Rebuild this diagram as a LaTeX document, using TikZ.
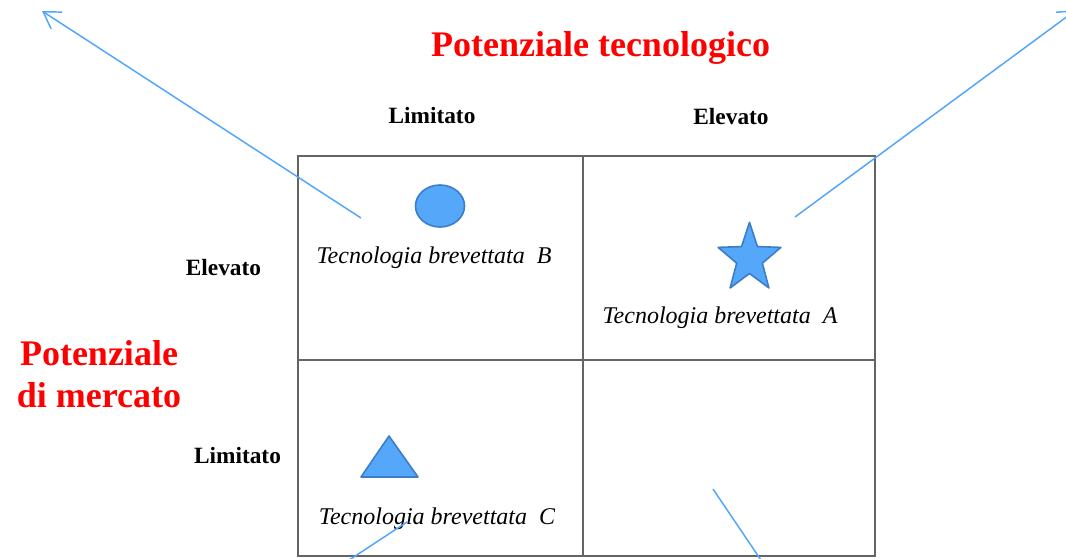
\documentclass[tikz,border=0pt]{standalone}
\usepackage{fontspec}
\setmainfont{Liberation Serif}
\usetikzlibrary{shapes.geometric,arrows.meta}
\definecolor{titred}{RGB}{255,0,0}
\definecolor{linblu}{RGB}{80,165,255}
\definecolor{shpfill}{RGB}{85,167,250}
\definecolor{shpdraw}{RGB}{60,125,200}
\definecolor{gridgray}{RGB}{100,100,100}

\begin{document}
\begin{tikzpicture}[x=0.75pt,y=0.75pt,yscale=-1,xscale=1,
	titolo/.style={text=titred,font=\bfseries\fontsize{27}{31.5}\selectfont,inner sep=0pt},
	livello/.style={font=\bfseries\fontsize{17.5}{21}\selectfont,inner sep=0pt},
	brevetto/.style={font=\itshape\fontsize{18}{21}\selectfont,inner sep=0pt},
	simbolo/.style={fill=shpfill,draw=shpdraw,line width=1.2pt,inner sep=0pt,line join=round},
	freccia/.style={draw=linblu,line width=1.1pt,-{Straight Barb[length=12pt,width=15pt]}},
	filo/.style={draw=linblu,line width=1.1pt}]
		\useasboundingbox (0,0) rectangle (1066,558);
		
		%Grid
		\draw [gridgray,line width=1.1pt] (298,156) rectangle (875,556) (583,156) -- (583,556) (298,360) -- (875,360);
		
		% Text Node
		\node [titolo,anchor=base] (tecno) at (600.5,56) {Potenziale tecnologico};
		% Text Node
		\node [titolo,anchor=base,align=center] (merc) at (99,407) {Potenziale\\di mercato};
		% Text Node
		\node [livello,anchor=base] (limT) at (432,123) {Limitato};
		% Text Node
		\node [livello,anchor=base] (eleT) at (731,124) {Elevato};
		% Text Node
		\node [livello,anchor=base] (eleL) at (223.5,275) {Elevato};
		% Text Node
		\node [livello,anchor=base] (limL) at (237.5,463) {Limitato};
		% Text Node
		\node [brevetto,anchor=base] (tecB) at (434,263) {Tecnologia brevettata\ \ B};
		% Text Node
		\node [brevetto,anchor=base] (tecA) at (720,323) {Tecnologia brevettata\ \ A};
		% Text Node
		\node [brevetto,anchor=base] (tecC) at (437,524) {Tecnologia brevettata\ \ C};
		
		%Shapes
		\node [simbolo,ellipse,minimum width=36.75pt,minimum height=31.5pt] (cerchio) at (440,206) {};
		\coordinate (stella) at (749.5,258.6);
		\filldraw [simbolo,shift={(stella)},yscale=1.1] (-90:33) \foreach \k in {1,...,9} { -- ({-90+36*\k}:{mod(\k,2)==1 ? 13.5 : 33}) } -- cycle;
		\filldraw [simbolo] (389,436) -- (418,477) -- (361,477) -- cycle;
		
		%Straight Lines
		\coordinate (fB) at (361,218);
		\coordinate (pB) at (42,11);
		\draw [freccia] (fB) -- (pB);
		%Straight Lines
		\coordinate (fA) at (795,217);
		\coordinate (pA) at (1076,10);
		\draw [freccia] (fA) -- (pA);
		%Straight Lines
		\coordinate (fC) at (407,522);
		\coordinate (pC) at (340,566);
		\draw [filo] (fC) -- (pC);
		%Straight Lines
		\coordinate (fD) at (713,489);
		\coordinate (pD) at (765,566);
		\draw [filo] (fD) -- (pD);
		
	\end{tikzpicture}
\end{document}
